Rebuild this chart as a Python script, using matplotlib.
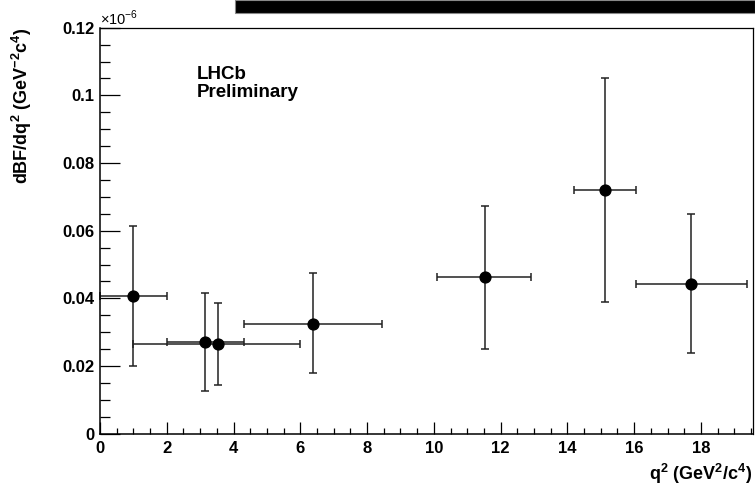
import matplotlib
matplotlib.use('Agg')
import matplotlib.pyplot as plt
from matplotlib.patches import Rectangle
from matplotlib.ticker import MultipleLocator, FuncFormatter

plt.rcParams['font.family'] = ['Liberation Sans', 'DejaVu Sans']
plt.rcParams['mathtext.fontset'] = 'custom'
plt.rcParams['mathtext.rm'] = 'Liberation Sans'
plt.rcParams['mathtext.bf'] = 'Liberation Sans:bold'

# Differential branching fraction in q2 bins (units of 1e-6)
q2 = [1.0, 3.15, 3.53, 6.37, 11.53, 15.13, 17.69]
dbf = [0.0408, 0.0270, 0.0266, 0.0325, 0.0464, 0.0719, 0.0443]
bin_lo = [0.0, 2.0, 1.0, 4.3, 10.1, 14.2, 16.05]
bin_hi = [2.0, 4.3, 6.0, 8.45, 12.9, 16.05, 19.37]
dbf_hi = [0.0614, 0.0417, 0.0385, 0.0475, 0.0673, 0.105, 0.0649]
dbf_lo = [0.0200, 0.0125, 0.0145, 0.0180, 0.0250, 0.0388, 0.0240]

xerr = [[c - lo for c, lo in zip(q2, bin_lo)], [hi - c for c, hi in zip(q2, bin_hi)]]
yerr = [[v - lo for v, lo in zip(dbf, dbf_lo)], [hi - v for v, hi in zip(dbf, dbf_hi)]]

fig = plt.figure(figsize=(7.55, 4.92), dpi=100)
ax = fig.add_axes([100 / 755, 1 - 433.7 / 492, 652.7 / 755, 406 / 492])

ax.errorbar(q2, dbf, xerr=xerr, yerr=yerr, fmt='o', color='black', ecolor='#222222',
            markersize=7.8, elinewidth=1.1, capsize=2.6, capthick=1.1, clip_on=False)

ax.set_xlim(0, 19.55)
ax.set_ylim(0, 0.12)

ax.xaxis.set_major_locator(MultipleLocator(2))
ax.xaxis.set_minor_locator(MultipleLocator(0.5))
ax.yaxis.set_major_locator(MultipleLocator(0.02))
ax.yaxis.set_minor_locator(MultipleLocator(0.005))
fmt = FuncFormatter(lambda v, p: '%g' % round(v, 6))
ax.xaxis.set_major_formatter(fmt)
ax.yaxis.set_major_formatter(fmt)

ax.tick_params(axis='both', which='both', direction='in', width=0.9, colors='black',
               labelsize=12)
ax.tick_params(axis='x', which='major', length=8.6, pad=5)
ax.tick_params(axis='x', which='minor', length=4.3)
ax.tick_params(axis='y', which='major', length=14.4, pad=4)
ax.tick_params(axis='y', which='minor', length=7.2)
for lbl in ax.get_xticklabels() + ax.get_yticklabels():
    lbl.set_fontweight('bold')

for side in ['left', 'bottom']:
    ax.spines[side].set_linewidth(1.1)
for side in ['top', 'right']:
    ax.spines[side].set_linewidth(0.9)

fig.text(100 / 755, 1 - 28 / 492, r'$\times$10$^{-6}$', fontsize=10.5, ha='left', va='bottom')

fig.text(22 / 755, 1 - 28 / 492, r'dBF/dq$^{\mathbf{2}}$ (GeV$^{\mathbf{-2}}$c$^{\mathbf{4}}$)',
         rotation=90, ha='center', va='top', fontsize=13, fontweight='bold')
fig.text(752 / 755, 1 - 486 / 492, r'q$^{\mathbf{2}}$ (GeV$^{\mathbf{2}}$/c$^{\mathbf{4}}$)',
         ha='right', va='bottom', fontsize=13, fontweight='bold')

ax.text(197 / 755, 1 - 66 / 492, 'LHCb\nPreliminary', transform=fig.transFigure,
        ha='left', va='top', fontsize=13.5, fontweight='bold', linespacing=1.1)

# black banner along the top edge
fig.patches.append(Rectangle((235 / 755, 1 - 12.5 / 492), 520 / 755, 12.5 / 492,
                             transform=fig.transFigure, facecolor='black',
                             edgecolor='#888888', linewidth=0.8))

fig.savefig('out.png', dpi=100)
